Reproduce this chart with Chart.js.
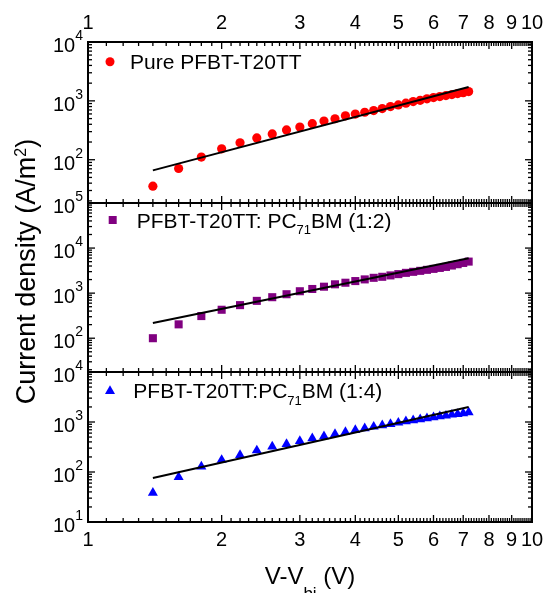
<!DOCTYPE html>
<html>
<head>
<meta charset="utf-8">
<script src="https://cdn.jsdelivr.net/npm/chart.js"></script>
<style>
  html, body { margin: 0; padding: 0; background: #fff; }
  #wrap { width: 544px; height: 593px; position: relative; }
</style>
</head>
<body>
<div id="wrap"><canvas id="jv"></canvas></div>
<script>
// V - Vbi (V)
const voltage = [1.4, 1.6, 1.8, 2.0, 2.2, 2.4, 2.6, 2.8, 3.0, 3.2, 3.4, 3.6, 3.8, 4.0, 4.2,
  4.4, 4.6, 4.8, 5.0, 5.2, 5.4, 5.6, 5.8, 6.0, 6.2, 6.4, 6.6, 6.8, 7.0, 7.2];

// current density (A/m2)
const pureJ = [35.5, 71, 111, 153, 194, 235, 274, 321, 360, 409, 454, 497, 558, 597, 641,
  685, 741, 801, 853, 912, 973, 1023, 1081, 1137, 1182, 1230, 1277, 1328, 1380, 1436];
const blend12J = [100, 203, 310, 428, 542, 674, 813, 946, 1102, 1237, 1390, 1570, 1703, 1853, 2018,
  2188, 2305, 2474, 2642, 2820, 2971, 3125, 3290, 3455, 3630, 3820, 4100, 4385, 4680, 5010];
const blend14J = [38.5, 79, 128, 174, 219, 270, 321, 363, 417, 470, 515, 575, 631, 692, 745,
  805, 855, 912, 968, 1028, 1077, 1128, 1181, 1237, 1295, 1337, 1400, 1445, 1486, 1556];

// fitted lines (end points)
const fitV = [1.4, 7.2];
const pureFit = [66, 1720];
const blend12Fit = [218, 5940];
const blend14Fit = [76, 1995];

// axis ranges
const xRange = [1, 10];
const xLabels = [1, 2, 3, 4, 5, 6, 7, 8, 9, 10];
const yRangeA = [18.4, 1e4];
const yRangeB = [17.8, 1e5];
const yRangeC = [10, 1e4];

const FONT = '"Liberation Sans", Arial, sans-serif';

function pts(xs, ys) {
  return xs.map((v, i) => ({ x: v, y: ys[i] }));
}

function richText(ctx, parts, x, y) {
  // parts: [text, size, baseline offset]
  parts.forEach(p => {
    ctx.font = p[1] + 'px ' + FONT;
    ctx.fillText(p[0], x, y + p[2]);
    x += ctx.measureText(p[0]).width;
  });
}

function richWidth(ctx, parts) {
  let w = 0;
  parts.forEach(p => {
    ctx.font = p[1] + 'px ' + FONT;
    w += ctx.measureText(p[0]).width;
  });
  return w;
}

const framePlugin = {
  id: 'frame',
  afterDatasetsDraw(chart) {
    const ctx = chart.ctx;
    const xs = chart.scales.x;
    const area = chart.chartArea;
    const panels = [chart.scales.yA, chart.scales.yB, chart.scales.yC];
    ctx.save();
    ctx.strokeStyle = '#000';
    ctx.fillStyle = '#000';

    const seg = (x1, y1, x2, y2) => {
      ctx.beginPath();
      ctx.moveTo(x1, y1);
      ctx.lineTo(x2, y2);
      ctx.stroke();
    };

    // tick marks (inward)
    ctx.lineWidth = 1.3;
    panels.forEach(s => {
      for (let i = 10; i <= 100; i++) {
        const px = xs.getPixelForValue(i / 10);
        const len = i % 10 === 0 ? 7 : 4;
        seg(px, s.top, px, s.top + len);
        seg(px, s.bottom, px, s.bottom - len);
      }
      const e0 = Math.floor(Math.log10(s.min));
      const e1 = Math.ceil(Math.log10(s.max));
      for (let e = e0; e <= e1; e++) {
        for (let m = 1; m <= 9; m++) {
          const v = m * Math.pow(10, e);
          if (v < s.min * 0.999 || v > s.max * 1.001) continue;
          const py = s.getPixelForValue(v);
          const len = m === 1 ? 7 : 4;
          seg(area.left, py, area.left + len, py);
          seg(area.right, py, area.right - len, py);
        }
      }
    });

    // frame and panel separators
    ctx.lineWidth = 2;
    ctx.strokeRect(area.left, area.top, area.right - area.left, area.bottom - area.top);
    seg(area.left, panels[0].bottom, area.right, panels[0].bottom);
    seg(area.left, panels[1].bottom, area.right, panels[1].bottom);

    // x tick labels, top and bottom
    ctx.textAlign = 'center';
    ctx.textBaseline = 'alphabetic';
    ctx.font = '20px ' + FONT;
    xLabels.forEach(v => {
      const px = xs.getPixelForValue(v);
      ctx.fillText(String(v), px, area.top - 13);
      ctx.fillText(String(v), px, area.bottom + 24);
    });

    // y tick labels 10^n
    ctx.textAlign = 'right';
    panels.forEach(s => {
      const e0 = Math.ceil(Math.log10(s.min) - 0.001);
      const e1 = Math.floor(Math.log10(s.max) + 0.001);
      for (let e = e0; e <= e1; e++) {
        const py = s.getPixelForValue(Math.pow(10, e));
        ctx.font = '14px ' + FONT;
        const sw = ctx.measureText(String(e)).width;
        ctx.fillText(String(e), 83, py - 2);
        ctx.font = '20px ' + FONT;
        ctx.fillText('10', 83 - sw, py + 10);
      }
    });

    // legends
    ctx.textAlign = 'left';
    ctx.fillStyle = '#ff0000';
    ctx.beginPath();
    ctx.arc(110, 61.7, 4.5, 0, Math.PI * 2);
    ctx.fill();
    ctx.fillStyle = '#800080';
    ctx.fillRect(112.7 - 4, 220 - 4, 8, 8);
    ctx.fillStyle = '#0000ff';
    const r = 5.8;
    ctx.beginPath();
    ctx.moveTo(110, 391 - r);
    ctx.lineTo(110 + r * 0.866, 391 + r / 2);
    ctx.lineTo(110 - r * 0.866, 391 + r / 2);
    ctx.closePath();
    ctx.fill();

    ctx.fillStyle = '#000';
    richText(ctx, [['Pure PFBT-T20TT', 21, 0]], 130, 68.5);
    richText(ctx, [['PFBT-T20TT: PC', 21, 0], ['71', 13, 6], ['BM (1:2)', 21, 0]], 136.7, 227.5);
    richText(ctx, [['PFBT-T20TT:PC', 21, 0], ['71', 13, 6.5], ['BM (1:4)', 21, 0]], 133.3, 398.4);

    // axis titles
    const xt = [['V-V', 24, 0], ['bi', 17, 15], [' (V)', 24, 0]];
    const xw = richWidth(ctx, xt);
    richText(ctx, xt, (area.left + area.right) / 2 - xw / 2, 584);

    ctx.translate(35, 0);
    ctx.rotate(-Math.PI / 2);
    const yt = [['Current density (A/m', 27, 0], ['2', 16, -9], [')', 27, 0]];
    const yw = richWidth(ctx, yt);
    richText(ctx, yt, -(271.5 + yw / 2), 0);
    ctx.restore();
  }
};

const markerBase = { showLine: false, borderWidth: 0, pointBorderWidth: 0, order: 1 };
const lineBase = { showLine: true, borderColor: '#000', borderWidth: 2, pointRadius: 0, order: 0 };

new Chart(document.getElementById('jv'), {
  type: 'scatter',
  data: {
    datasets: [
      Object.assign({ label: 'Pure PFBT-T20TT', data: pts(voltage, pureJ), yAxisID: 'yA',
        backgroundColor: '#ff0000', pointStyle: 'circle', pointRadius: 4.6 }, markerBase),
      Object.assign({ label: 'fit A', data: pts(fitV, pureFit), yAxisID: 'yA' }, lineBase),
      Object.assign({ label: 'PFBT-T20TT: PC71BM (1:2)', data: pts(voltage, blend12J), yAxisID: 'yB',
        backgroundColor: '#800080', pointStyle: 'rect', pointRadius: 5.7 }, markerBase),
      Object.assign({ label: 'fit B', data: pts(fitV, blend12Fit), yAxisID: 'yB' }, lineBase),
      Object.assign({ label: 'PFBT-T20TT:PC71BM (1:4)', data: pts(voltage, blend14J), yAxisID: 'yC',
        backgroundColor: '#0000ff', pointStyle: 'triangle', pointRadius: 5.8 }, markerBase),
      Object.assign({ label: 'fit C', data: pts(fitV, blend14Fit), yAxisID: 'yC' }, lineBase)
    ]
  },
  options: {
    responsive: true,
    maintainAspectRatio: false,
    animation: false,
    layout: { padding: { left: 88, right: 12, top: 42, bottom: 71 } },
    plugins: { legend: { display: false }, tooltip: { enabled: false } },
    scales: {
      x: { type: 'logarithmic', min: xRange[0], max: xRange[1], display: false },
      // left boxes are placed in reverse order, so the last one ends up on top
      yC: { type: 'logarithmic', position: 'left', stack: 'panels', stackWeight: 150,
        min: yRangeC[0], max: yRangeC[1], display: false },
      yB: { type: 'logarithmic', position: 'left', stack: 'panels', stackWeight: 169,
        min: yRangeB[0], max: yRangeB[1], display: false },
      yA: { type: 'logarithmic', position: 'left', stack: 'panels', stackWeight: 161,
        min: yRangeA[0], max: yRangeA[1], display: false }
    }
  },
  plugins: [framePlugin]
});
</script>
</body>
</html>
